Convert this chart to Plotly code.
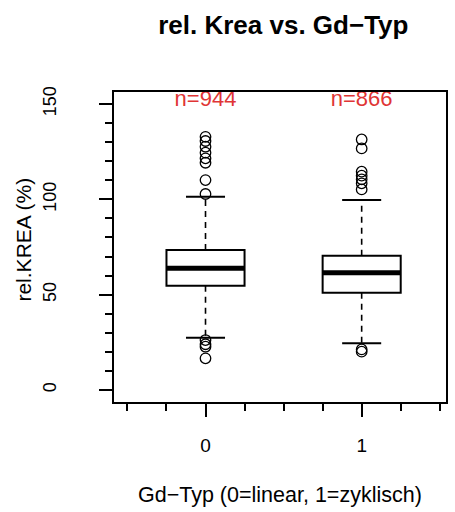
import plotly.graph_objects as go

# ---- data ----
groups = ["0", "1"]
positions = [0, 1]
q1 = [54.7, 51.0]
median = [63.8, 61.5]
q3 = [73.4, 70.4]
lower_whisker = [27.4, 24.5]
upper_whisker = [101.4, 99.6]
outliers_0 = [132.8, 130.6, 127.6, 124.5, 121.5, 119.2, 110.1, 102.8, 26.2, 24.0, 22.7, 16.6]
outliers_1 = [131.4, 126.7, 114.5, 112.4, 110.5, 108.4, 105.2, 21.3, 20.1]
outliers = [outliers_0, outliers_1]
n_labels = ["n=944", "n=866"]
n_label_y = 151.8
y_tick_vals = [0, 50, 100, 150]

FONT = "Liberation Sans, Arial, sans-serif"
BOX_W = 0.5
CAP_W = 0.125

fig = go.Figure()

for i, pos in enumerate(positions):
    # box body (fences collapsed so whiskers can be drawn dashed separately)
    fig.add_trace(go.Box(
        x=[pos], q1=[q1[i]], median=[median[i]], q3=[q3[i]],
        lowerfence=[q1[i]], upperfence=[q3[i]],
        width=BOX_W, whiskerwidth=0, boxpoints=False,
        fillcolor="white", line=dict(color="black", width=2),
        showlegend=False, hoverinfo="skip",
    ))
    # thick median
    fig.add_trace(go.Scatter(
        x=[pos - BOX_W / 2, pos + BOX_W / 2], y=[median[i], median[i]],
        mode="lines", line=dict(color="black", width=5),
        showlegend=False, hoverinfo="skip",
    ))
    # dashed whiskers
    for a, b in [(q3[i], upper_whisker[i]), (q1[i], lower_whisker[i])]:
        fig.add_trace(go.Scatter(
            x=[pos, pos], y=[a, b], mode="lines",
            line=dict(color="black", width=1.6, dash="6px,5px"),
            showlegend=False, hoverinfo="skip",
        ))
    # staples
    for w in [upper_whisker[i], lower_whisker[i]]:
        fig.add_trace(go.Scatter(
            x=[pos - CAP_W, pos + CAP_W], y=[w, w], mode="lines",
            line=dict(color="black", width=2),
            showlegend=False, hoverinfo="skip",
        ))
    # outliers
    fig.add_trace(go.Scatter(
        x=[pos] * len(outliers[i]), y=outliers[i], mode="markers",
        marker=dict(symbol="circle-open", size=10.5, color="black",
                    line=dict(width=1.3, color="black")),
        showlegend=False, hoverinfo="skip",
    ))

# n labels
fig.add_trace(go.Scatter(
    x=positions, y=[n_label_y] * len(positions), mode="text",
    text=n_labels, textposition="middle center",
    textfont=dict(family=FONT, size=22, color="#E03535"),
    showlegend=False, hoverinfo="skip",
))

fig.update_layout(
    width=455, height=512,
    margin=dict(l=114, r=7, t=92, b=110),
    paper_bgcolor="white", plot_bgcolor="white",
    font=dict(family=FONT, color="black"),
    title=dict(text="<b>rel. Krea vs. Gd\u2212Typ</b>", xref="paper", x=0.51, xanchor="center",
               y=1 - 25 / 512, yanchor="middle",
               font=dict(family=FONT, size=26, color="black")),
    xaxis=dict(
        range=[-0.586, 1.54], tickmode="linear", tick0=0, dtick=1,
        ticks="outside", ticklen=13, tickwidth=1.5, tickcolor="black",
        minor=dict(dtick=0.25, ticks="outside", ticklen=7, tickwidth=1.5, tickcolor="black"),
        showline=True, linecolor="black", linewidth=1.5, mirror=True,
        showgrid=False, zeroline=False,
        tickfont=dict(family=FONT, size=19, color="black"),
        ticklabelstandoff=12,
    ),
    yaxis=dict(
        range=[-6.3, 156.3], tickmode="array", tickvals=y_tick_vals,
        ticktext=[str(v) for v in y_tick_vals], tickangle=-90,
        ticks="outside", ticklen=13, tickwidth=1.5, tickcolor="black",
        minor=dict(dtick=10, ticks="outside", ticklen=7, tickwidth=1.5, tickcolor="black"),
        showline=True, linecolor="black", linewidth=1.5, mirror=True,
        showgrid=False, zeroline=False,
        tickfont=dict(family=FONT, size=18, color="black"),
        ticklabelstandoff=36,
    ),
    annotations=[
        dict(text="Gd\u2212Typ (0=linear, 1=zyklisch)", xref="paper", yref="paper",
             x=0.5, y=(402 - 495) / 310, xanchor="center", yanchor="middle",
             showarrow=False, font=dict(family=FONT, size=21.5, color="black")),
        dict(text="rel.KREA (%)", xref="paper", yref="paper",
             x=(22 - 114) / 334, y=(402 - 240) / 310, xanchor="center", yanchor="middle",
             textangle=-90, showarrow=False,
             font=dict(family=FONT, size=21, color="black")),
    ],
)

fig.write_html(
    "out.html",
    config={"displayModeBar": False},
    post_script="document.body.style.margin='0';document.body.style.overflow='hidden';",
)
